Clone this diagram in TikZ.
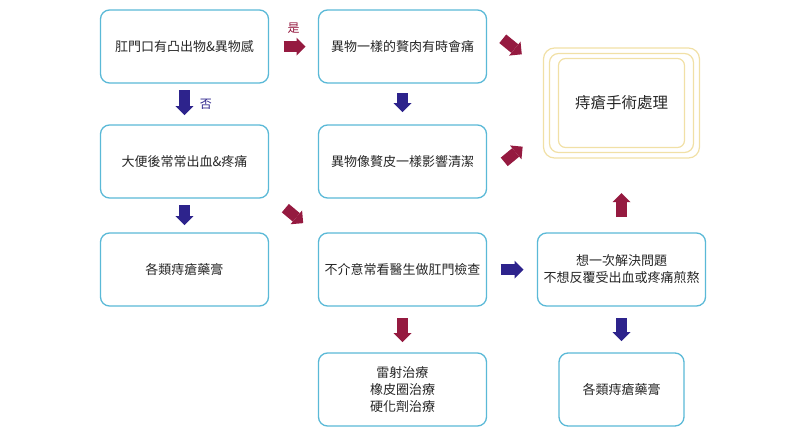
\documentclass[tikz,border=0pt]{standalone}
\usepackage{fontspec}
\setmainfont{Noto Sans CJK TC}
\usepackage{xcolor}
\usepackage{tikz}
\usetikzlibrary{arrows.meta,positioning}
\definecolor{skyline}{HTML}{5AB9D7}
\definecolor{wine}{HTML}{951A40}
\definecolor{ink}{HTML}{2D238C}
\definecolor{palegold}{HTML}{F1E0A6}
\definecolor{textgray}{HTML}{262626}
\tikzset{
  casebox/.style={
    rectangle,
    rounded corners=9pt,
    draw=skyline,
    fill=white,
    line width=1.3pt,
    outer sep=0pt,
    minimum width=168pt,
    minimum height=73pt,
    inner sep=2pt,
    align=center,
    text=textgray,
    font=\fontsize{13}{17}\selectfont
  },
  goalframe/.style={
    rectangle,
    draw=palegold,
    line width=1.2pt,
    outer sep=0pt,
    align=center,
    text=textgray,
    font=\fontsize{15.5}{19}\selectfont
  },
  yesflow/.style={line width=11pt, draw=wine,
    -{Triangle[length=9pt,width=18pt,line width=0pt]}},
  noflow/.style={line width=11pt, draw=ink,
    -{Triangle[length=9pt,width=18pt,line width=0pt]}},
  flowlabel/.style={inner sep=0pt, font=\fontsize{12}{14}\selectfont}
}
\begin{document}
\begin{tikzpicture}[node distance=42pt and 50pt]
\useasboundingbox (-184.5pt,46.5pt) rectangle (627.5pt,-393.5pt);

\node[casebox] (symptom) at (0,0) {肛門口有凸出物\&異物感};
\node[casebox, right=of symptom] (lump) {異物一樣的贅肉有時會痛};
\node[casebox, below=of symptom] (bleed) {大便後常常出血\&疼痛};
\node[casebox, below=of lump] (skintag) {異物像贅皮一樣影響清潔};
\node[casebox, below=35pt of bleed] (ointment) {各類痔瘡藥膏};
\node[casebox, right=of ointment] (checkup) {不介意常看醫生做肛門檢查};
\node[casebox, right=51pt of checkup] (oneshot) {想一次解決問題\\不想反覆受出血或疼痛煎熬};
\node[casebox, below=47pt of checkup] (banding) {雷射治療\\橡皮圈治療\\硬化劑治療};
\node[casebox, below=47pt of oneshot, minimum width=125pt] (cream) {各類痔瘡藥膏};

\node[goalframe, above=75pt of oneshot, minimum width=156pt, minimum height=110pt,
  rounded corners=11pt] (surgery) {痔瘡手術處理};
\node[goalframe, minimum width=144pt, minimum height=99pt, rounded corners=9pt]
  (surgerymid) at (surgery) {};
\node[goalframe, minimum width=126pt, minimum height=89pt, rounded corners=7pt]
  (surgeryin) at (surgery) {};

% yes / no branches
\draw[yesflow, shorten <=15pt, shorten >=13pt] (symptom.east) -- (lump.west)
  node[flowlabel, midway, above=8pt, text=wine] {是};
\draw[noflow, shorten <=7pt, shorten >=10pt] (symptom.south) -- (bleed.north)
  node[flowlabel, midway, right=10pt, text=ink] {否};
\draw[noflow, shorten <=10pt, shorten >=13pt] (lump.south) -- (skintag.north);
\draw[noflow, shorten <=7pt, shorten >=8pt] (bleed.south) -- (ointment.north);
\draw[yesflow, shorten <=22pt, shorten >=20pt]
  ([yshift=4pt]bleed.south east) -- ([yshift=-3pt]checkup.north west);

% towards surgery
\draw[yesflow, shorten <=21pt, shorten >=28pt]
  ([yshift=21pt]lump.east) -- ([yshift=31pt]surgery.west);
\draw[yesflow, shorten <=23pt, shorten >=27pt]
  ([yshift=-15pt]skintag.east) -- ([yshift=-26.5pt]surgery.west);
\draw[yesflow, shorten <=16pt, shorten >=35pt] (oneshot.north) -- (surgery.south);

% check-up branch
\draw[noflow, shorten <=14pt, shorten >=14pt] (checkup.east) -- (oneshot.west);
\draw[yesflow, shorten <=12pt, shorten >=11pt] (checkup.south) -- (banding.north);
\draw[noflow, shorten <=12pt, shorten >=12pt] (oneshot.south) -- (cream.north);

\end{tikzpicture}
\end{document}
